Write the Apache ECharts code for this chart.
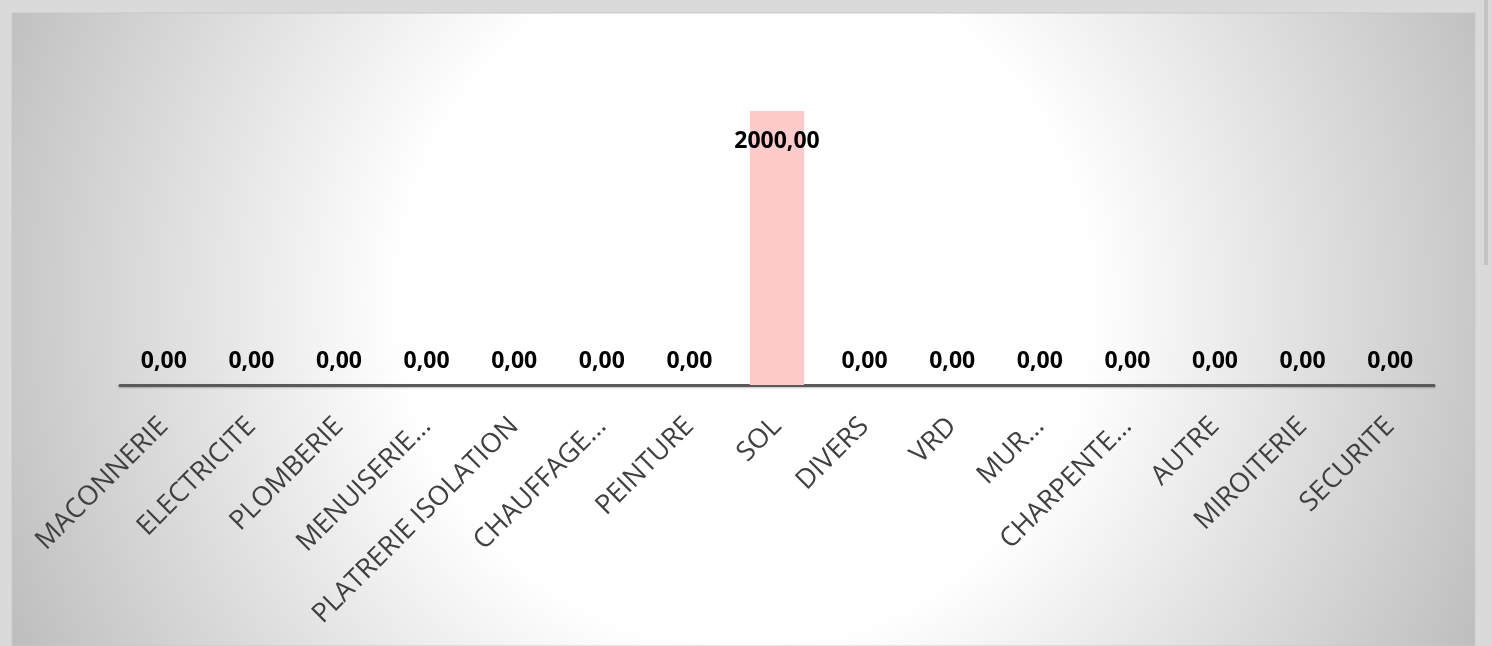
<!DOCTYPE html>
<html><head><meta charset="utf-8">
<script src="https://cdn.jsdelivr.net/npm/echarts@6/dist/echarts.min.js"></script>
<style>html,body{margin:0;padding:0;background:#dadada;}#c{width:1492px;height:646px;}</style>
</head><body><div id="c"></div>
<script>
const categories = ["MACONNERIE","ELECTRICITE","PLOMBERIE","MENUISERIE…","PLATRERIE ISOLATION","CHAUFFAGE…","PEINTURE","SOL","DIVERS","VRD","MUR…","CHARPENTE…","AUTRE","MIROITERIE","SECURITE"];
const values = [0,0,0,0,0,0,0,2000,0,0,0,0,0,0,0];

const chart = echarts.init(document.getElementById('c'), null, {renderer:'canvas'});
const fmt = p => p.value.toFixed(2).replace('.', ',');
chart.setOption({
  backgroundColor: '#dadada',
  animation: false,
  graphic: [
    {type:'rect', z:-10, silent:true, shape:{x:12,y:13,width:1463,height:633},
     style:{fill:{type:'radial', x:745, y:300, r:820, global:true,
       colorStops:[{offset:0,color:'#ffffff'},{offset:0.42,color:'#ffffff'},{offset:1,color:'#bcbcbc'}]},
       stroke:'#c8c8c8', lineWidth:1}},
    {type:'rect', z:-9, silent:true, shape:{x:1484,y:0,width:4,height:265}, style:{fill:'#c4c4c4'}}
  ],
  grid: {left:120, right:58, top:111, bottom:261, containLabel:false},
  xAxis: {
    type:'category', data: categories,
    axisLine:{show:true, lineStyle:{color:'#595959', width:3, shadowColor:'rgba(0,0,0,0.25)', shadowBlur:2, shadowOffsetY:1}},
    axisTick:{show:false},
    axisLabel:{interval:0, rotate:45, color:'#404040', fontFamily:'Open Sans', fontSize:27, margin:37}
  },
  yAxis: {type:'value', min:0, max:2000, show:false, splitLine:{show:false}},
  series: [{
    type:'bar', barWidth:'62%',
    data: values.map(v => ({value:v, label: v > 0 ? {position:'insideTop', distance:19} : {position:'top', distance:12}})),
    itemStyle:{color:'#ffcaca'},
    label:{show:true, formatter: fmt, color:'#000000', fontFamily:'Open Sans', fontWeight:'bold', fontSize:23}
  }]
});
</script></body></html>
